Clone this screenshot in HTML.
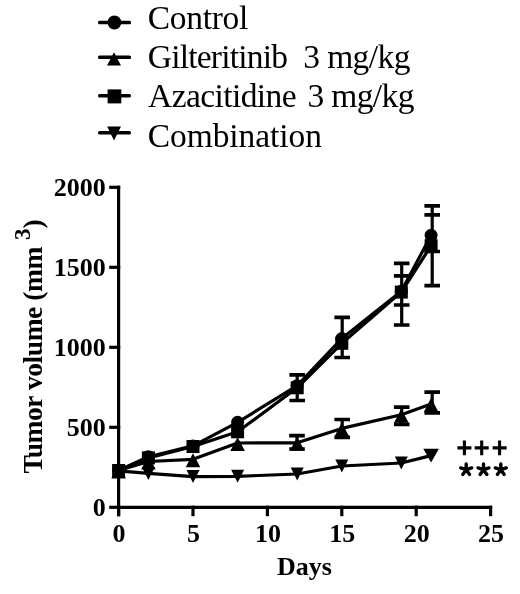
<!DOCTYPE html><html><head><meta charset="utf-8"><style>html,body{margin:0;padding:0;background:#fff;width:520px;height:594px;overflow:hidden}svg{display:block;filter:blur(0.4px)}</style></head><body>
<svg width="520" height="594" viewBox="0 0 520 594">
<rect width="520" height="594" fill="#fff"/>
<g fill="#000" stroke="none">
<rect x="98" y="20.8" width="33" height="3.4" rx="1.5"/>
<circle cx="114.4" cy="22.5" r="6.9"/>
<rect x="98" y="55.6" width="33" height="3.4" rx="1.5"/>
<path d="M114 52.2L121 65.4L107 65.4Z"/>
<rect x="98" y="94.1" width="33" height="3.4" rx="1.5"/>
<rect x="107.6" y="89.4" width="13.7" height="14"/>
<rect x="98" y="131.0" width="33" height="3.4" rx="1.5"/>
<path d="M107.2 126.6L121 126.6L114 140.4Z"/>
</g>
<g font-family="Liberation Serif, serif" font-size="33.5" fill="#000">
<text x="147.8" y="28.7" textLength="100.5" lengthAdjust="spacing">Control</text>
<text x="147.8" y="68.3" textLength="140.1" lengthAdjust="spacing">Gilteritinib</text>
<text x="303.2" y="68.3" textLength="107.2" lengthAdjust="spacing">3 mg/kg</text>
<text x="148.1" y="107.2" textLength="148.5" lengthAdjust="spacing">Azacitidine</text>
<text x="307.4" y="107.2" textLength="107.0" lengthAdjust="spacing">3 mg/kg</text>
<text x="147.8" y="147.2" textLength="174.1" lengthAdjust="spacing">Combination</text>
</g>
<g stroke="#000" stroke-width="3.2" fill="none" stroke-linecap="square">
<path d="M118.6 187.3V514.6"/>
<path d="M118.6 507.3H490.6"/>
<path d="M110.8 507.3H118.6"/>
<path d="M110.8 427.3H118.6"/>
<path d="M110.8 347.3H118.6"/>
<path d="M110.8 267.3H118.6"/>
<path d="M110.8 187.3H118.6"/>
<path d="M118.6 507.3V514.6"/>
<path d="M193.0 507.3V514.6"/>
<path d="M267.4 507.3V514.6"/>
<path d="M341.8 507.3V514.6"/>
<path d="M416.2 507.3V514.6"/>
<path d="M490.6 507.3V514.6"/>
</g>
<g font-family="Liberation Serif, serif" font-weight="bold" font-size="26" fill="#000">
<text x="105.8" y="515.9" text-anchor="end">0</text>
<text x="105.8" y="435.9" text-anchor="end">500</text>
<text x="105.8" y="355.9" text-anchor="end">1000</text>
<text x="105.8" y="275.9" text-anchor="end">1500</text>
<text x="105.8" y="195.9" text-anchor="end">2000</text>
<text x="119.1" y="541.6" text-anchor="middle">0</text>
<text x="193.5" y="541.6" text-anchor="middle">5</text>
<text x="267.9" y="541.6" text-anchor="middle">10</text>
<text x="342.3" y="541.6" text-anchor="middle">15</text>
<text x="416.7" y="541.6" text-anchor="middle">20</text>
<text x="491.1" y="541.6" text-anchor="middle">25</text>
<text x="277" y="575.4">Days</text>
</g>
<g transform="translate(41.8 473.6) rotate(-90)" font-family="Liberation Serif, serif" font-weight="bold" fill="#000">
<text x="0" y="0" font-size="27.5" textLength="227" lengthAdjust="spacing">Tumor volume (mm</text>
<text x="233.6" y="-11.8" font-size="23">3</text>
<text x="245" y="0" font-size="27.5">)</text>
</g>
<g stroke="#000" stroke-width="3.2" fill="none" stroke-linejoin="round">
<polyline points="118.6,470.5 148.4,456.7 193.0,445.9 237.6,422.3 297.2,385.7 341.8,338.5 401.3,291.3 431.1,235.3"/>
<polyline points="118.6,470.5 148.4,457.9 193.0,446.5 237.6,431.8 297.2,387.8 341.8,343.3 401.3,292.1 431.1,245.7"/>
<polyline points="118.6,470.5 148.4,461.5 193.0,459.3 237.6,443.0 297.2,442.8 341.8,428.4 401.3,414.7 431.1,403.9"/>
<polyline points="118.6,470.8 148.4,473.4 193.0,476.6 237.6,476.3 297.2,474.0 341.8,466.0 401.3,463.0 431.1,455.6"/>
</g>
<g stroke="#000" stroke-width="3.2" fill="none">
<path d="M297.2 374.9V400.5"/>
<path stroke-width="3.7" d="M289.4 374.9H305.0M289.4 400.5H305.0"/>
<path d="M342.2 317.4V357.5"/>
<path stroke-width="3.7" d="M334.4 317.4H350.0M334.4 357.5H350.0"/>
<path d="M401.7 263.3V325.0"/>
<path stroke-width="3.7" d="M393.9 263.3H409.5M393.9 275.8H409.5M393.9 305.0H409.5M393.9 325.0H409.5"/>
<path d="M432.2 205.9V285.6"/>
<path stroke-width="3.7" d="M424.4 205.9H440.0M424.4 214.9H440.0M424.4 251.5H440.0M424.4 285.6H440.0"/>
<path d="M297.0 435.6V449.0"/>
<path stroke-width="3.7" d="M289.2 435.6H304.8M289.2 449.0H304.8"/>
<path d="M342.2 419.5V437.3"/>
<path stroke-width="3.7" d="M334.4 419.5H350.0M334.4 437.3H350.0"/>
<path d="M401.7 407.1V424.3"/>
<path stroke-width="3.7" d="M393.9 407.1H409.5M393.9 424.3H409.5"/>
<path d="M432.2 392.1V412.8"/>
<path stroke-width="3.7" d="M424.4 392.1H440.0M424.4 412.8H440.0"/>
</g>
<g fill="#000">
<path d="M112.1 464.3L125.1 464.3L118.6 477.3Z"/>
<path d="M141.9 466.9L154.9 466.9L148.4 479.9Z"/>
<path d="M186.5 470.1L199.5 470.1L193.0 483.1Z"/>
<path d="M231.1 469.8L244.1 469.8L237.6 482.8Z"/>
<path d="M290.7 467.5L303.7 467.5L297.2 480.5Z"/>
<path d="M335.3 459.5L348.3 459.5L341.8 472.5Z"/>
<path d="M394.8 456.5L407.8 456.5L401.3 469.5Z"/>
<path d="M423.3 448.8L438.9 448.8L431.1 462.6Z"/>
<path d="M118.6 464.5L125.9 478.5L111.3 478.5Z"/>
<path d="M148.4 455.5L155.7 469.5L141.1 469.5Z"/>
<path d="M193.0 453.3L200.3 467.3L185.7 467.3Z"/>
<path d="M237.6 437.0L244.9 451.0L230.3 451.0Z"/>
<path d="M297.2 436.8L304.5 450.8L289.9 450.8Z"/>
<path d="M341.8 422.4L349.1 436.4L334.5 436.4Z"/>
<path d="M401.3 408.7L408.6 422.7L394.0 422.7Z"/>
<path d="M431.1 397.9L438.4 411.9L423.8 411.9Z"/>
<rect x="112.1" y="464.0" width="13.0" height="13.0"/>
<rect x="141.9" y="451.4" width="13.0" height="13.0"/>
<rect x="186.5" y="440.0" width="13.0" height="13.0"/>
<rect x="231.1" y="425.3" width="13.0" height="13.0"/>
<rect x="290.7" y="381.3" width="13.0" height="13.0"/>
<rect x="335.3" y="336.8" width="13.0" height="13.0"/>
<rect x="394.8" y="285.6" width="13.0" height="13.0"/>
<rect x="424.6" y="239.2" width="13.0" height="13.0"/>
<circle cx="118.6" cy="470.5" r="6.5"/>
<circle cx="148.4" cy="456.7" r="6.5"/>
<circle cx="193.0" cy="445.9" r="6.5"/>
<circle cx="237.6" cy="422.3" r="6.5"/>
<circle cx="297.2" cy="385.7" r="6.5"/>
<circle cx="341.8" cy="338.5" r="6.5"/>
<circle cx="401.3" cy="291.3" r="6.5"/>
<circle cx="431.1" cy="235.3" r="6.5"/>
</g>
<g stroke="#000" stroke-width="3.1" fill="none">
<path d="M457.4 447.9H471.4M464.4 440.6V455.2"/>
<path d="M474.7 447.9H488.7M481.7 440.6V455.2"/>
<path d="M492.6 447.9H506.6M499.6 440.6V455.2"/>
</g>
<g stroke="#000" stroke-width="3.4" stroke-linecap="round" stroke-linejoin="round" fill="none">
<path d="M466.2 469.7L466.2 463.9M466.2 469.7L471.7 467.9M466.2 469.7L469.6 474.4M466.2 469.7L462.8 474.4M466.2 469.7L460.7 467.9"/>
<path d="M483.5 469.7L483.5 463.9M483.5 469.7L489.0 467.9M483.5 469.7L486.9 474.4M483.5 469.7L480.1 474.4M483.5 469.7L478.0 467.9"/>
<path d="M500.8 469.7L500.8 463.9M500.8 469.7L506.3 467.9M500.8 469.7L504.2 474.4M500.8 469.7L497.4 474.4M500.8 469.7L495.3 467.9"/>
</g>
</svg></body></html>
